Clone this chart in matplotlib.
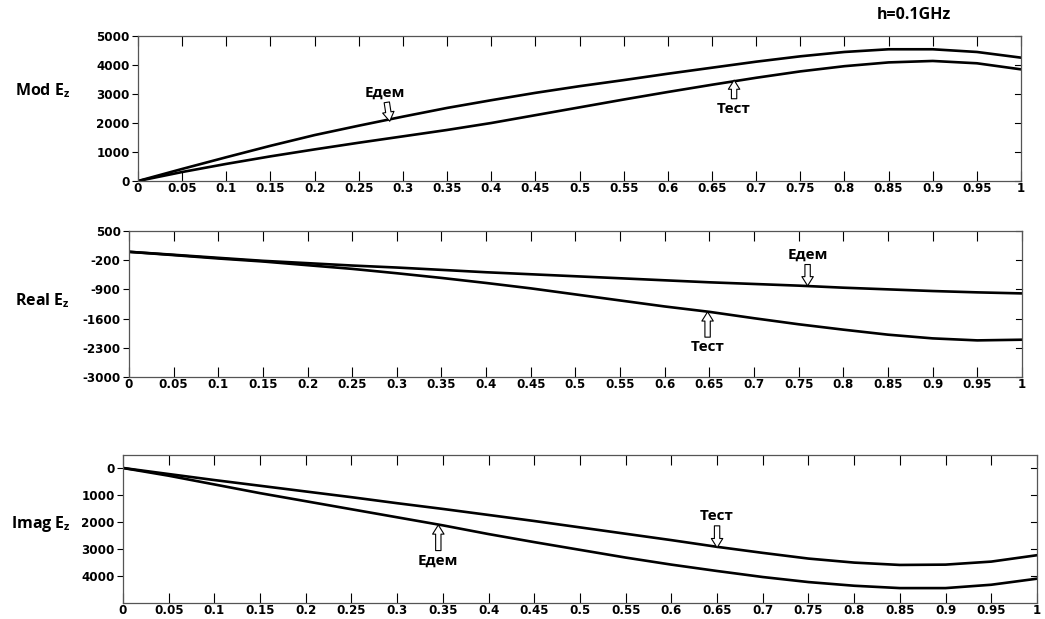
import numpy as np
import matplotlib
matplotlib.use('Agg')
import matplotlib.pyplot as plt

# x grid for all three panels
x = [0, 0.05, 0.1, 0.15, 0.2, 0.25, 0.3, 0.35, 0.4, 0.45, 0.5,
     0.55, 0.6, 0.65, 0.7, 0.75, 0.8, 0.85, 0.9, 0.95, 1.0]

# Mod Ez
mod_edem = [0, 416, 820, 1214, 1584, 1908, 2220, 2520, 2786, 3040, 3270,
            3480, 3700, 3908, 4115, 4300, 4450, 4543, 4543, 4450, 4254]
mod_test = [0, 310, 590, 850, 1090, 1320, 1540, 1760, 2000, 2270, 2540,
            2810, 3070, 3320, 3560, 3780, 3960, 4090, 4140, 4060, 3850]

# Real Ez
real_edem = [0, -71, -144, -216, -272, -329, -377, -433, -490, -538, -586,
             -634, -683, -731, -771, -811, -860, -900, -940, -972, -997]
real_test = [0, -79, -160, -232, -321, -409, -514, -626, -747, -876, -1021,
             -1166, -1310, -1439, -1592, -1737, -1866, -1986, -2075, -2123, -2107]

# Imag Ez (axis drawn downwards)
imag_test = [0, 224, 447, 658, 870, 1081, 1304, 1516, 1739, 1963, 2199,
             2435, 2671, 2919, 3143, 3354, 3503, 3590, 3578, 3466, 3230]
imag_edem = [0, 286, 609, 932, 1230, 1528, 1826, 2124, 2447, 2745, 3031,
             3317, 3578, 3814, 4037, 4224, 4360, 4447, 4447, 4323, 4099]

xticks = np.round(np.arange(0, 1.0001, 0.05), 2)
xlabels = ['0' if t == 0 else ('1' if t == 1 else ('%g' % t)) for t in xticks]

mod_ticks = [0, 1000, 2000, 3000, 4000, 5000]
real_ticks = [500, -200, -900, -1600, -2300, -3000]
imag_ticks = [0, 1000, 2000, 3000, 4000]

fig = plt.figure(figsize=(10.45, 6.19), dpi=100)
fig.patch.set_facecolor('white')

ax1 = fig.add_axes([0.1321, 0.7076, 0.845, 0.2342])
ax2 = fig.add_axes([0.1234, 0.391, 0.8545, 0.2359])
ax3 = fig.add_axes([0.1177, 0.0258, 0.8746, 0.2391])

tick_font = dict(family='DejaVu Sans', weight='bold', size=8.6)
label_font = dict(family='Open Sans', weight='bold', size=11.5)
ann_font = dict(family='Open Sans', weight='bold', size=11, ha='center', va='center')
arrow = dict(arrowstyle='simple,head_width=0.75,head_length=0.6,tail_width=0.35',
             fc='white', ec='black', lw=0.8, shrinkA=0, shrinkB=0)


def style(ax, yticks, ylim):
    ax.set_xlim(0, 1)
    ax.set_ylim(*ylim)
    ax.set_xticks(xticks)
    ax.set_xticklabels(xlabels, fontdict=tick_font)
    ax.set_yticks(yticks)
    ax.set_yticklabels([str(t) for t in yticks], fontdict=tick_font)
    ax.tick_params(axis='x', direction='in', top=True, bottom=True,
                   length=7, width=0.8, pad=1)
    ax.tick_params(axis='y', direction='out', left=True, right=False,
                   length=4, width=0.8, pad=2)
    for t in yticks:
        ax.plot([0.993, 1.0], [t, t], color='black', lw=0.8,
                transform=ax.get_yaxis_transform(), clip_on=False)
    for s in ax.spines.values():
        s.set_linewidth(0.9)
        s.set_color('#555555')


ax1.plot(x, mod_edem, color='black', lw=1.9)
ax1.plot(x, mod_test, color='black', lw=1.9)
style(ax1, mod_ticks, (0, 5000))
ax1.annotate('Едем', xy=(0.285, 2060), xytext=(0.28, 3050), arrowprops=arrow, **ann_font)
ax1.annotate('Тест', xy=(0.675, 3480), xytext=(0.675, 2500), arrowprops=arrow, **ann_font)

ax2.plot(x, real_edem, color='black', lw=1.9)
ax2.plot(x, real_test, color='black', lw=1.9)
style(ax2, real_ticks, (-3000, 500))
ax2.annotate('Едем', xy=(0.76, -815), xytext=(0.76, -70), arrowprops=arrow, **ann_font)
ax2.annotate('Тест', xy=(0.648, -1440), xytext=(0.648, -2280), arrowprops=arrow, **ann_font)

ax3.plot(x, imag_test, color='black', lw=1.9)
ax3.plot(x, imag_edem, color='black', lw=1.9)
style(ax3, imag_ticks, (5000, -480))
ax3.annotate('Тест', xy=(0.65, 2950), xytext=(0.65, 1780), arrowprops=arrow, **ann_font)
ax3.annotate('Едем', xy=(0.345, 2110), xytext=(0.345, 3420), arrowprops=arrow, **ann_font)

fig.text(0.014, 1 - 91 / 619, r'Mod E$_{\mathregular{z}}$', va='center', ha='left', **label_font)
fig.text(0.014, 1 - 301 / 619, r'Real E$_{\mathregular{z}}$', va='center', ha='left', **label_font)
fig.text(0.011, 1 - 524 / 619, r'Imag E$_{\mathregular{z}}$', va='center', ha='left', **label_font)
fig.text(914 / 1045, 1 - 15 / 619, 'h=0.1GHz', va='center', ha='center', **label_font)

fig.savefig('out.png', dpi=100, facecolor='white')
